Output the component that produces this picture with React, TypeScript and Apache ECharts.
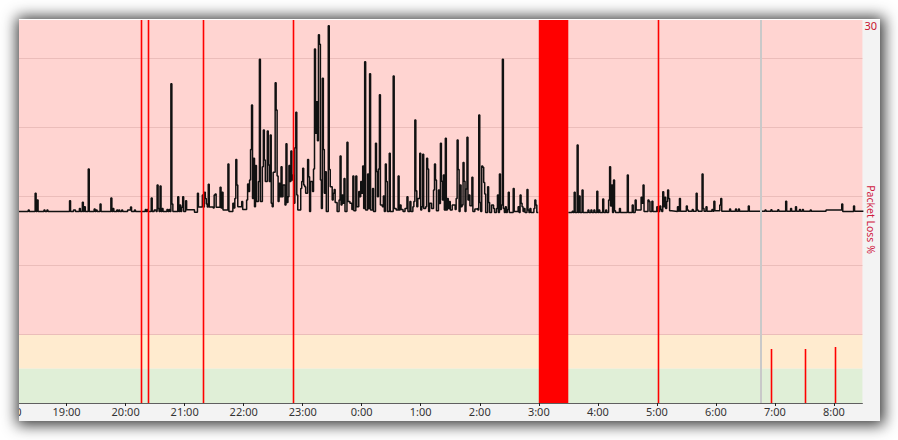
import React, { useEffect, useRef } from "react";
import * as echarts from "echarts";

// Time is in minutes since 18:00; latency in ms; packet loss in %.
const xMin = 11.6;
const xMax = 869;
const hourTicks = [60, 120, 180, 240, 300, 360, 420, 480, 540, 600, 660, 720, 780, 840];
const latencyMax = 1110;
const gridValues = [200, 400, 600, 800, 1000];
const bandGood = [0, 100];
const bandWarn = [100, 200];
const bandBad = [200, latencyMax];
const lossMax = 30;

const latencySamples: [number, number | null][] = [
  [11, 555], [21, 559], [22, 555], [28, 608], [29, 555], [30, 588], [31, 555], [37, 559], [38, 555], [40, 559], [41, 555],
  [63, 586], [64, 555], [67, 559], [69, 555], [73, 564], [74, 555], [76, 582], [77, 555], [78, 569], [79, 555],
  [82, 678], [83, 555], [88, 562], [89, 555], [90, 559], [91, 555], [94, 577], [95, 555], [105, 594], [106, 555],
  [107, 564], [108, 555], [111, 559], [112, 555], [113, 559], [114, 555], [116, 559], [117, 555], [122, 559], [125, 568],
  [126, 555], [129, 559], [130, 555], [140, 561], [141, 555], [142, 561], [143, 555], [146, 594], [147, 555], [149, 559],
  [151, 555], [152, 632], [153, 564], [154, 555], [155, 629], [156, 555], [157, 564], [158, 555], [162, 561], [163, 555],
  [164, 561], [165, 555], [166, 925], [167, 577], [168, 555], [173, 598], [174, 555], [175, 574], [176, 555], [177, 567],
  [178, 598], [179, 555], [181, 586], [182, 560], [190, 553], [193, 608], [194, 568], [198, 603], [199, 568], [200, 611],
  [201, 593], [202, 577], [203, 568], [204, 634], [205, 568], [209, 565], [210, 603], [211, 606], [212, 567], [216, 625],
  [217, 565], [218, 611], [219, 559], [224, 693], [225, 555], [229, 579], [230, 565], [231, 593], [232, 706], [233, 632],
  [234, 569], [238, 584], [239, 561], [243, 588], [244, 635], [245, 613], [246, 646], [247, 735], [248, 864], [249, 593],
  [250, 709], [251, 569], [252, 688], [253, 584], [255, 642], [256, 996], [257, 584], [259, 685], [260, 791], [261, 704],
  [262, 642], [264, 788], [265, 690], [266, 642], [267, 777], [268, 579], [269, 569], [270, 669], [272, 928], [273, 849],
  [274, 658], [275, 584], [276, 637], [277, 598], [278, 685], [279, 598], [280, 632], [282, 574], [283, 751], [284, 581],
  [285, 598], [286, 688], [287, 642], [288, 730], [289, 646], [290, 661], [291, 579], [292, 740], [293, 843], [294, 603],
  [295, 559], [298, 622], [299, 642], [300, 680], [301, 632], [302, 627], [303, 608], [305, 706], [306, 656], [307, 555],
  [308, 642], [310, 613], [311, 678], [312, 1026], [313, 782], [314, 873], [315, 760], [316, 1067], [317, 1040], [318, 646],
  [319, 564], [320, 941], [321, 735], [322, 608], [323, 670], [324, 555], [326, 1093], [327, 677], [328, 627], [330, 588],
  [331, 608], [332, 619], [333, 581], [335, 555], [337, 588], [338, 716], [339, 574], [340, 603], [341, 579], [342, 651],
  [343, 555], [345, 756], [346, 584], [348, 579], [350, 561], [351, 658], [352, 557], [354, 658], [355, 569], [357, 613],
  [358, 598], [359, 642], [360, 608], [361, 687], [362, 564], [363, 989], [364, 559], [366, 664], [367, 564], [368, 954],
  [369, 559], [371, 622], [372, 555], [374, 753], [375, 671], [376, 598], [377, 678], [378, 893], [379, 574], [381, 569],
  [382, 600], [383, 555], [384, 693], [385, 642], [386, 555], [388, 724], [389, 555], [392, 948], [393, 564], [395, 559],
  [397, 658], [398, 559], [399, 574], [400, 561], [402, 555], [404, 564], [406, 598], [407, 555], [409, 584], [410, 555],
  [412, 569], [413, 584], [414, 820], [415, 615], [416, 569], [417, 593], [419, 724], [420, 559], [421, 569], [422, 721],
  [423, 564], [425, 569], [426, 709], [427, 678], [428, 555], [429, 579], [431, 564], [433, 617], [434, 693], [435, 646],
  [436, 557], [438, 617], [439, 578], [440, 753], [441, 643], [442, 588], [443, 661], [444, 559], [445, 767], [446, 559],
  [447, 593], [448, 564], [449, 584], [450, 559], [452, 574], [455, 561], [456, 593], [457, 762], [458, 677], [459, 555],
  [460, 632], [461, 569], [462, 574], [463, 697], [464, 643], [465, 555], [466, 620], [467, 770], [468, 588], [469, 603],
  [470, 572], [472, 654], [473, 555], [475, 562], [477, 564], [478, 559], [479, 835], [480, 581], [481, 555], [482, 687],
  [483, 683], [484, 639], [485, 606], [486, 552], [488, 627], [489, 581], [490, 552], [492, 574], [494, 564], [495, 552],
  [497, 564], [498, 603], [499, 552], [500, 664], [501, 561], [502, 574], [503, 996], [504, 564], [505, 552], [506, 569],
  [507, 552], [508, 561], [509, 611], [510, 552], [514, 622], [515, 555], [519, 569], [520, 552], [521, 603], [522, 579],
  [523, 569], [524, 555], [525, 564], [526, 552], [528, 619], [529, 559], [530, 552], [531, 564], [532, 552], [535, 564],
  [536, 588], [537, 574], [538, 552], [539.5, 552], [540, null],
  [570, 552], [574, 556], [575, 552], [576, 611], [577, 552], [579, 748], [580, 552], [581, 600], [582, 552], [584, 617],
  [585, 552], [590, 559], [591, 552], [593, 559], [594, 552], [596, 559], [597, 552], [599, 614], [600, 552], [601, 559],
  [602, 552], [605, 591], [606, 552], [608, 559], [609, 552], [611, 588], [612, 685], [613, 571], [614, 632], [615, 552],
  [616, 646], [617, 557], [618, 552], [622, 564], [623, 552], [630, 661], [631, 552], [635, 574], [636, 552], [638, 588],
  [639, 559], [644, 596], [645, 579], [646, 632], [647, 555], [651, 588], [652, 584], [653, 555], [655, 585], [656, 555],
  [660, 569], [661, 555], [663, 571], [664, 561], [665, 555], [666, 612], [667, 569], [668, 596], [669, 564], [670, 584],
  [671, 617], [672, 593], [673, 557], [675, 555], [681, 569], [682, 556], [683, 593], [684, 556], [690, 571], [691, 559],
  [692, 556], [696, 561], [697, 556], [700, 608], [701, 559], [702, 556], [706, 664], [707, 564], [708, 556], [710, 569],
  [711, 556], [716, 561], [717, 556], [718, 585], [719, 557], [724, 574], [725, 593], [726, 556], [734, 562], [735, 556],
  [740, 562], [741, 556], [743, 562], [744, 556], [753, 571], [754, 556], [770, 559], [771, 556], [776, 560], [777, 556],
  [783, 560], [784, 556], [791, 585], [792, 556], [796, 564], [797, 556], [801, 569], [802, 556], [805, 561], [806, 556],
  [808, 561], [809, 556], [816, 559], [817, 556], [832, 559], [848, 577], [849, 555], [860, 571], [861, 556], [870, 556],
];

const lossMinutes = [136, 143, 199, 291, 662, 777, 811, 842];
const lossPercent = [100, 100, 100, 100, 100, 4.2, 4.2, 4.4];
const outageStart = 540;
const outageEnd = 570;
const gapMarkerMinute = 766;

const FONT = "'Noto Sans', 'DejaVu Sans', sans-serif";

export default function App() {
  const ref = useRef<HTMLDivElement>(null);

  useEffect(() => {
    if (!ref.current) return;
    const chart = echarts.init(ref.current, undefined, { renderer: "svg" });
    const hourLabel = (v: number) => `${(18 + Math.round(v / 60)) % 24}:00`;

    chart.setOption({
      animation: false,
      grid: { left: 0, top: 1, right: 16, bottom: 18, containLabel: false },
      xAxis: {
        type: "value",
        min: xMin,
        max: xMax,
        splitLine: { show: false },
        axisLine: { show: true, lineStyle: { color: "#5f5f5f", width: 1 } },
        axisTick: { show: true, customValues: hourTicks, length: 3, lineStyle: { color: "#222" } },
        axisLabel: {
          customValues: hourTicks,
          formatter: hourLabel,
          color: "#333",
          fontSize: 11,
          fontFamily: FONT,
          margin: 3,
        },
      },
      yAxis: [
        {
          type: "value",
          min: 0,
          max: latencyMax,
          show: false,
          splitLine: { show: false },
        },
        {
          type: "value",
          position: "right",
          min: 0,
          max: lossMax,
          interval: lossMax,
          axisLine: { show: false },
          axisTick: { show: false },
          splitLine: { show: false },
          axisLabel: {
            showMinLabel: false,
            color: "#c8102e",
            fontSize: 11,
            fontFamily: FONT,
            margin: 2,
            verticalAlign: "top",
          },
        },
      ],
      graphic: [
        {
          type: "rect",
          shape: { x: 0, y: 0, width: 861, height: 1 },
          style: { fill: "#ffffff" },
          silent: true,
        },
        {
          type: "text",
          x: 851.5,
          y: 200.5,
          rotation: -Math.PI / 2,
          style: {
            text: "Packet Loss %",
            fill: "#d0203f",
            font: `10.5px ${FONT}`,
            align: "center",
            verticalAlign: "middle",
          },
        },
        {
          type: "text",
          x: -11.4,
          y: 387,
          style: {
            text: "18:00",
            fill: "#333",
            font: `11px ${FONT}`,
            align: "center",
            verticalAlign: "top",
          },
        },
      ],
      series: [
        {
          type: "line",
          name: "bands",
          data: [[xMin, 0]],
          symbol: "none",
          lineStyle: { opacity: 0 },
          silent: true,
          z: 0,
          markArea: {
            silent: true,
            z: 0,
            itemStyle: { opacity: 1 },
            data: [
              [{ yAxis: bandGood[0], itemStyle: { color: "#e0efd7", opacity: 1 } }, { yAxis: bandGood[1] }],
              [{ yAxis: bandWarn[0], itemStyle: { color: "#ffebcf", opacity: 1 } }, { yAxis: bandWarn[1] }],
              [{ yAxis: bandBad[0], itemStyle: { color: "#ffd4d1", opacity: 1 } }, { yAxis: bandBad[1] }],
            ],
          },
        },
        {
          type: "line",
          name: "grid",
          data: [[xMin, 0]],
          symbol: "none",
          lineStyle: { opacity: 0 },
          silent: true,
          z: 1,
          markLine: {
            silent: true,
            z: 1,
            symbol: ["none", "none"],
            label: { show: false },
            lineStyle: { color: "#ebbdba", type: "solid", width: 1 },
            data: gridValues.map((v) => ({ yAxis: v })),
          },
        },
        {
          type: "line",
          name: "latency",
          yAxisIndex: 0,
          step: "end",
          symbol: "none",
          connectNulls: false,
          z: 3,
          lineStyle: { color: "#111", width: 1.5 },
          data: latencySamples,
        },
        {
          type: "custom",
          name: "loss",
          yAxisIndex: 1,
          z: 4,
          silent: true,
          encode: { x: 0, y: 1 },
          itemStyle: { color: "#ff0000" },
          data: lossMinutes.map((m, i) => [m, lossPercent[i]]),
          renderItem: (_params: any, api: any) => {
            const m = api.value(0);
            const v = Math.min(api.value(1), lossMax);
            const top = api.coord([m, v]);
            const base = api.coord([m, 0]);
            const x = Math.floor(top[0]) + 0.5;
            return {
              type: "line",
              shape: { x1: x, y1: Math.round(top[1]), x2: x, y2: Math.round(base[1]) },
              style: { stroke: "#ff0000", lineWidth: 1.6, fill: null },
            };
          },
          markArea: {
            silent: true,
            z: 4,
            itemStyle: { color: "#ff0000", opacity: 1 },
            data: [[{ xAxis: outageStart }, { xAxis: outageEnd }]],
          },
        },
        {
          type: "line",
          name: "marker",
          data: [[xMin, 0]],
          symbol: "none",
          lineStyle: { opacity: 0 },
          silent: true,
          z: 6,
          markLine: {
            silent: true,
            z: 6,
            symbol: ["none", "none"],
            label: { show: false },
            lineStyle: { color: "#c9c9c9", type: "solid", width: 2 },
            data: [{ xAxis: gapMarkerMinute }],
          },
        },
      ],
    });
    return () => chart.dispose();
  }, []);

  return (
    <div style={{ position: "absolute", left: 0, top: 0, width: 898, height: 440, background: "#fff", overflow: "hidden" }}>
      <div
        style={{
          position: "absolute",
          left: 19,
          top: 19,
          width: 861,
          height: 402,
          background: "#f3f3f3",
          boxShadow: "1px 1px 14px 3px rgba(0,0,0,0.8)",
          overflow: "hidden",
        }}
      >
        <div ref={ref} style={{ width: 861, height: 402 }} />
      </div>
    </div>
  );
}
